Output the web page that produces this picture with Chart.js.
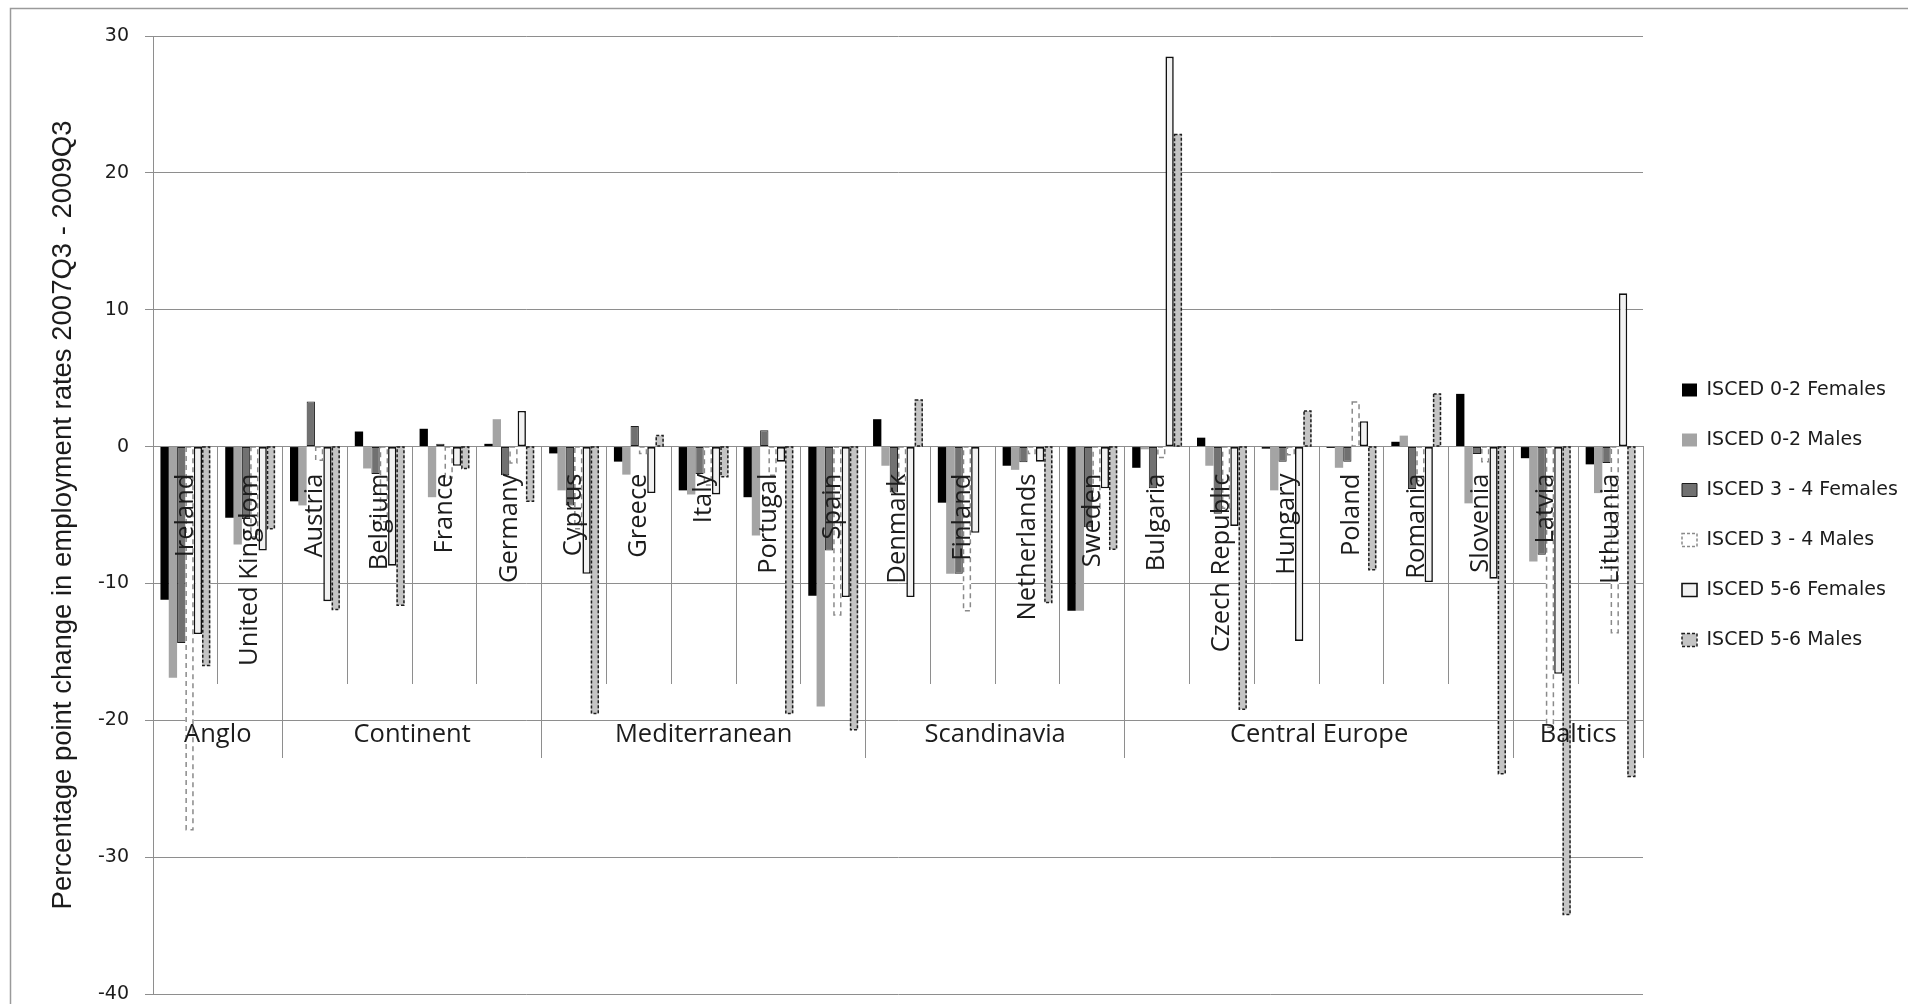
<!DOCTYPE html>
<html>
<head>
<meta charset="utf-8">
<title>Employment rate change by education level, 2007Q3 - 2009Q3</title>
<script src="https://cdn.jsdelivr.net/npm/chart.js@4.4.0/dist/chart.umd.min.js"></script>
<style>
  html, body { margin: 0; padding: 0; background: #ffffff; }
  #wrap { position: relative; width: 1908px; height: 1004px; }
</style>
</head>
<body>
<div id="wrap"><canvas id="chart"></canvas></div>
<script>
// ---- data -------------------------------------------------------------
const countries = ['Ireland', 'United Kingdom', 'Austria', 'Belgium', 'France', 'Germany',
  'Cyprus', 'Greece', 'Italy', 'Portugal', 'Spain', 'Denmark', 'Finland', 'Netherlands',
  'Sweden', 'Bulgaria', 'Czech Republic', 'Hungary', 'Poland', 'Romania', 'Slovenia',
  'Latvia', 'Lithuania'];

const regionNames = ['Anglo', 'Continent', 'Mediterranean', 'Scandinavia', 'Central Europe', 'Baltics'];
const regionSizes = [2, 4, 5, 4, 6, 2];

const seriesNames = ['ISCED 0-2 Females', 'ISCED 0-2 Males', 'ISCED 3 - 4 Females',
  'ISCED 3 - 4 Males', 'ISCED 5-6 Females', 'ISCED 5-6 Males'];

const isced02Females = [-11.2, -5.2, -4.0, 1.1, 1.3, 0.2, -0.5, -1.1, -3.2, -3.7, -10.9, 2.0,
  -4.1, -1.4, -12.0, -1.55, 0.65, -0.15, -0.1, 0.35, 3.85, -0.85, -1.3];
const isced02Males = [-16.9, -7.15, -4.3, -1.6, -3.7, 2.0, -3.2, -2.05, -3.5, -6.5, -19.0, -1.4,
  -9.3, -1.7, -12.0, -0.2, -1.4, -3.2, -1.55, 0.8, -4.15, -8.4, -3.4];
const isced34Females = [-14.35, -5.3, 3.3, -2.0, 0.2, -2.1, -4.3, 1.5, -2.0, 1.2, -7.6, -3.35,
  -9.3, -1.15, -5.9, -3.05, -4.9, -1.1, -1.1, -3.1, -0.55, -7.9, -1.2];
const isced34Males = [-28.0, -6.6, -1.0, -5.5, -2.3, -1.2, -6.0, -0.5, -2.8, -2.1, -12.3, -2.6,
  -12.0, -0.5, -4.5, -0.8, -4.5, -0.6, 3.25, -2.5, -1.1, -20.5, -13.6];
const isced56Females = [-13.7, -7.6, -11.3, -8.7, -1.4, 2.6, -9.3, -3.4, -3.5, -1.1, -11.0, -11.0,
  -6.3, -1.1, -3.05, 28.5, -5.8, -14.2, 1.85, -9.9, -9.65, -16.6, 11.2];
const isced56Males = [-16.0, -6.0, -11.9, -11.6, -1.6, -4.0, -19.5, 0.8, -2.2, -19.5, -20.7, 3.4,
  0, -11.4, -7.5, 22.8, -19.2, 2.6, -9.0, 3.85, -23.9, -34.2, -24.1];

const yMin = -40, yMax = 30, yStep = 10;
const yTitle = 'Percentage point change in employment rates 2007Q3 - 2009Q3';

// ---- styling ------------------------------------------------------------
const GRID = '#8e8e8e';
const TEXT = '#1c1c1c';
const seriesValues = [isced02Females, isced02Males, isced34Females, isced34Males, isced56Females, isced56Males];
const seriesStyles = [
  { bg: '#000000', border: '#000000', width: 0 },
  { bg: '#a4a4a4', border: '#a4a4a4', width: 0 },
  { bg: '#717171', border: '#1e1e1e', width: 1 },
  { bg: '#ffffff', border: '#ffffff', width: 0, outline: { color: '#8a8a8a', width: 1.5, dash: [5, 4] } },
  { bg: '#f2f2f2', border: '#111111', width: 1.6 },
  { bg: '#c4c4c4', border: '#c4c4c4', width: 0, outline: { color: '#1e1e1e', width: 1.5, dash: [3, 2] } }
];

// region boundaries and centres in category units
const regionEdges = [-0.5];
regionSizes.forEach(n => regionEdges.push(regionEdges[regionEdges.length - 1] + n));
const regionCenters = regionSizes.map((n, i) => regionEdges[i] + n / 2);

const labelFont = { family: "'Open Sans', 'DejaVu Sans', sans-serif", size: 25.5 };
const verdanaLike = { family: "'DejaVu Sans', sans-serif", size: 19, lineHeight: 1 };

// white page with a thin grey frame
const framePlugin = {
  id: 'frame',
  beforeDraw(chart) {
    const c = chart.ctx;
    c.save();
    c.fillStyle = '#ffffff';
    c.fillRect(0, 0, chart.width, chart.height);
    c.strokeStyle = '#9a9a9a';
    c.lineWidth = 1.5;
    c.strokeRect(10.5, 8.5, chart.width, chart.height);
    c.restore();
  }
};

// dashed outlines for the two series drawn with dashed borders
const dashedOutlinePlugin = {
  id: 'dashedOutline',
  afterDatasetsDraw(chart) {
    const c = chart.ctx;
    chart.data.datasets.forEach((ds, i) => {
      const o = seriesStyles[i].outline;
      const meta = chart.getDatasetMeta(i);
      if (!o || meta.hidden) return;
      c.save();
      c.strokeStyle = o.color;
      c.lineWidth = o.width;
      c.setLineDash(o.dash);
      meta.data.forEach(bar => {
        const p = bar.getProps(['x', 'y', 'base', 'width'], true);
        const left = p.x - p.width / 2 + o.width / 2;
        const top = Math.min(p.y, p.base);
        const h = Math.abs(p.base - p.y);
        if (h < 0.5) return;
        c.strokeRect(left, top, p.width - o.width, h);
      });
      c.restore();
    });
  }
};

const datasets = seriesNames.map((name, i) => ({
  label: name,
  data: seriesValues[i],
  backgroundColor: seriesStyles[i].bg,
  borderColor: seriesStyles[i].border,
  borderWidth: seriesStyles[i].width,
  borderSkipped: false,
  categoryPercentage: 0.77,
  barPercentage: 1.0
}));

new Chart(document.getElementById('chart'), {
  type: 'bar',
  data: { labels: countries, datasets },
  plugins: [framePlugin, dashedOutlinePlugin],
  options: {
    responsive: true,
    maintainAspectRatio: false,
    devicePixelRatio: 1,
    animation: false,
    events: [],
    layout: { padding: { left: 0, top: 36, right: 7, bottom: 10 } },
    plugins: {
      tooltip: { enabled: false },
      legend: {
        position: 'right',
        maxWidth: 250,
        labels: {
          boxWidth: 15,
          boxHeight: 13,
          padding: 31,
          color: TEXT,
          font: verdanaLike,
          generateLabels(chart) {
            const items = Chart.defaults.plugins.legend.labels.generateLabels(chart);
            items.forEach((it, i) => {
              const s = seriesStyles[i];
              if (s.outline) {
                it.strokeStyle = s.outline.color;
                it.lineWidth = s.outline.width;
                it.lineDash = [3, 2];
              }
            });
            return items;
          }
        }
      }
    },
    scales: {
      x: {
        type: 'category',
        position: { y: 0 },
        offset: true,
        grid: { display: true, drawOnChartArea: false, drawTicks: true, tickLength: 237, color: GRID, lineWidth: 1, offset: true },
        border: { display: true, color: GRID, width: 1 },
        ticks: { autoSkip: false, minRotation: 90, maxRotation: 90, padding: -210, color: TEXT, font: labelFont, z: 1 }
      },
      regionEdgesAxis: {
        type: 'linear',
        axis: 'x',
        position: { y: 0 },
        offset: false,
        min: regionEdges[0],
        max: regionEdges[regionEdges.length - 1],
        afterBuildTicks: s => { s.ticks = regionEdges.map(v => ({ value: v })); },
        grid: { display: true, offset: false, drawOnChartArea: false, drawTicks: true, tickLength: 311, color: GRID, lineWidth: 1 },
        border: { display: false },
        ticks: { display: false }
      },
      regionLabelAxis: {
        type: 'linear',
        axis: 'x',
        position: { y: -20 },
        offset: false,
        min: regionEdges[0],
        max: regionEdges[regionEdges.length - 1],
        afterBuildTicks: s => { s.ticks = regionCenters.map(v => ({ value: v })); },
        grid: { display: false, offset: false },
        border: { display: false },
        ticks: {
          autoSkip: false, maxRotation: 0, minRotation: 0, padding: -9, color: TEXT, font: labelFont, z: 1,
          callback: (v, i) => regionNames[i]
        }
      },
      y: {
        position: 'left',
        min: yMin,
        max: yMax,
        ticks: { stepSize: yStep, padding: 16, color: TEXT, font: verdanaLike },
        grid: { color: GRID, lineWidth: 1, drawTicks: true, tickLength: 8 },
        border: { display: true, color: GRID, width: 1 },
        title: {
          display: true,
          text: yTitle,
          color: TEXT,
          font: { family: "'Liberation Sans', Arial, sans-serif", size: 27.5 },
          padding: { top: 47, bottom: 0 }
        },
        afterFit: s => {
          s.width = 153;
          s.paddingTop = 0;
          s.paddingBottom = 0;
        }
      },
      gap: {
        type: 'linear',
        axis: 'y',
        position: 'right',
        display: true,
        grid: { display: false },
        border: { display: false },
        ticks: { display: false },
        afterFit: s => { s.width = 8; }
      }
    }
  }
});
</script>
</body>
</html>
